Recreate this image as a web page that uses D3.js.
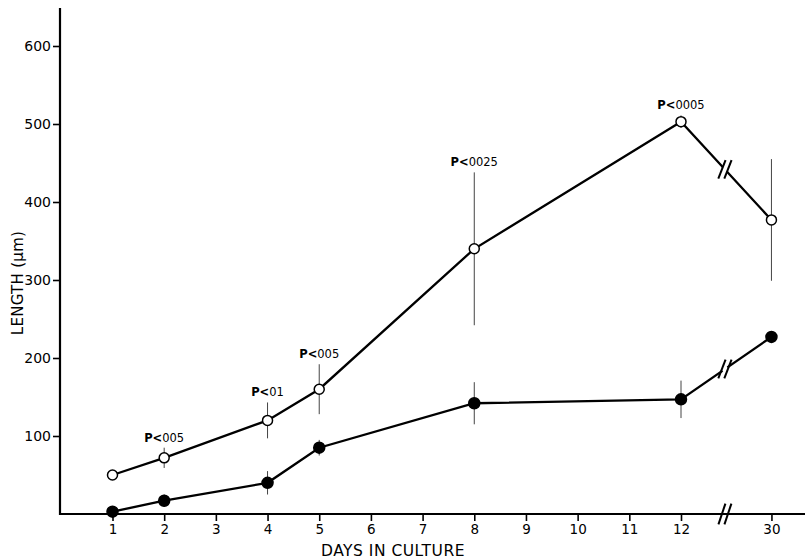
<!DOCTYPE html>
<html><head><meta charset="utf-8">
<script src="https://cdn.jsdelivr.net/npm/d3@7"></script>
<style>body{margin:0;background:#fff}svg{display:block}text{font-family:"DejaVu Sans",sans-serif}</style>
</head><body><svg id="c" width="805" height="559"></svg>
<script>
const days = [1, 2, 4, 5, 8, 12, 30];
const openMean = [50, 72, 120, 160, 340, 503, 377];
const openErr = [0, 13, 23, 32, 98, 8, 78];
const filledMean = [3, 17, 40, 85, 142, 147, 227];
const filledErr = [0, 8, 15, 10, 27, 24, 0];
const xTicks = [1, 2, 3, 4, 5, 6, 7, 8, 9, 10, 11, 12, 30];
const yTicks = [100, 200, 300, 400, 500, 600];
const pDays = [2, 4, 5, 8, 12];
const pLabels = ["005", "01", "005", "0025", "0005"];

const svg = d3.select("#c");
const idx = d => d <= 12 ? d : 13.75;
const x = d3.scaleLinear().domain([1, 12]).range([112.5, 681]);
const y = d3.scaleLinear().domain([0, 600]).range([514, 46]);
const X = d => x(idx(d));

// axes
const yAx = svg.append("g").attr("transform", "translate(60,0)")
  .call(d3.axisLeft(y).tickValues(yTicks).tickSize(7).tickPadding(2));
yAx.select(".domain").remove();
yAx.selectAll("line").attr("stroke", "#000").attr("stroke-width", 1.6);
yAx.selectAll("text").attr("font-size", 14).attr("fill", "#000");
svg.append("line").attr("x1", 60).attr("x2", 60).attr("y1", 8).attr("y2", 515)
  .attr("stroke", "#000").attr("stroke-width", 2.2);

const xAx = svg.append("g").attr("transform", "translate(0,514)")
  .call(d3.axisBottom(x).tickValues(xTicks.map(idx)).tickFormat((d, i) => xTicks[i]).tickSize(7).tickPadding(3));
xAx.select(".domain").remove();
xAx.selectAll("line").attr("stroke", "#000").attr("stroke-width", 1.6);
xAx.selectAll("text").attr("font-size", 13.5).attr("fill", "#000");
svg.append("line").attr("x1", 59).attr("x2", 805).attr("y1", 514).attr("y2", 514)
  .attr("stroke", "#000").attr("stroke-width", 2.2);

// break marks
function brk(cx, cy, len, ang) {
  [-3, 3].forEach(o => {
    svg.append("line")
      .attr("x1", cx + o - len * Math.cos(ang)).attr("y1", cy + len * Math.sin(ang))
      .attr("x2", cx + o + len * Math.cos(ang)).attr("y2", cy - len * Math.sin(ang))
      .attr("stroke", "#000").attr("stroke-width", 2);
  });
}
brk(x(12.85), 514, 11, 1.25);

svg.append("text").attr("x", 393).attr("y", 556).attr("text-anchor", "middle")
  .attr("font-size", 15.5).attr("letter-spacing", 0.5).attr("fill", "#000").text("DAYS IN CULTURE");
svg.append("text").attr("transform", "translate(23,283) rotate(-90)").attr("text-anchor", "middle")
  .attr("font-size", 15).attr("letter-spacing", 0.3).attr("fill", "#000").text("LENGTH (μm)");

function series(mean, err, filled) {
  const pts = days.map((d, i) => ({ d, v: mean[i], e: err[i] }));
  svg.append("g").selectAll("line").data(pts.filter(p => p.e > 0)).join("line")
    .attr("x1", p => X(p.d)).attr("x2", p => X(p.d))
    .attr("y1", p => y(p.v - p.e)).attr("y2", p => y(p.v + p.e))
    .attr("stroke", "#444").attr("stroke-width", 1);
  svg.append("path").datum(pts)
    .attr("d", d3.line().x(p => X(p.d)).y(p => y(p.v)))
    .attr("fill", "none").attr("stroke", "#000").attr("stroke-width", 2.3);
  const a = pts[pts.length - 2], b = pts[pts.length - 1];
  const t = (x(12.85) - X(a.d)) / (X(b.d) - X(a.d));
  const bx = x(12.85), by = y(a.v + (b.v - a.v) * t);
  svg.append("rect").attr("x", bx - 3).attr("y", by - 6).attr("width", 6).attr("height", 12)
    .attr("fill", "#fff").attr("transform", `rotate(${Math.atan2(y(b.v) - y(a.v), X(b.d) - X(a.d)) * 180 / Math.PI},${bx},${by})`);
  brk(bx, by, 10, 1.2);
  svg.append("g").selectAll("circle").data(pts).join("circle")
    .attr("cx", p => X(p.d)).attr("cy", p => y(p.v)).attr("r", filled ? 5.5 : 5)
    .attr("fill", filled ? "#000" : "#fff").attr("stroke", "#000").attr("stroke-width", 1.5);
}
series(filledMean, filledErr, true);
series(openMean, openErr, false);

pDays.forEach((d, i) => {
  const j = days.indexOf(d);
  const t = svg.append("text").attr("x", X(d)).attr("y", y(openMean[j] + openErr[j]) - 6)
    .attr("text-anchor", "middle").attr("font-size", 11.5).attr("fill", "#000");
  t.append("tspan").attr("font-weight", "bold").text("P<");
  t.append("tspan").text(pLabels[i]);
});
</script></body></html>
